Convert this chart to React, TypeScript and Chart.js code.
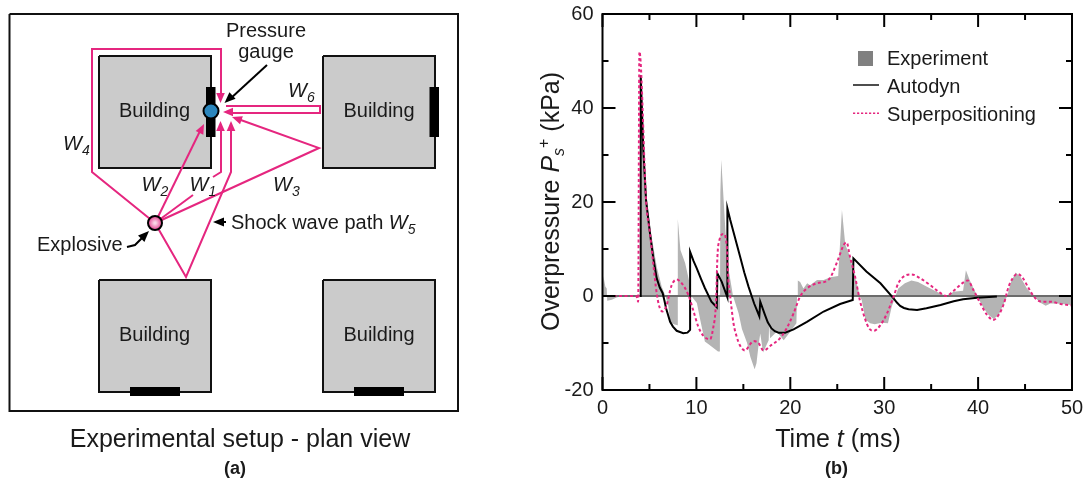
import React, { useEffect, useRef } from "react";
import { Chart, registerables } from "chart.js";

Chart.register(...registerables);

const FONT = '"Liberation Sans", Arial, sans-serif';
const PINK = "#e5267f";
const INK = "#1a1a1a";

/* ---------- panel (b) data: [time ms, overpressure kPa] ---------- */
const experiment: number[][] = [
  [0, 0], [0.1, 4.2], [0.3, 2], [0.45, 1.6], [0.5, -1], [1, -0.8], [1.5, -0.3], [2, 0], [4.05, 0],
  [4.12, 47], [4.3, 38], [4.7, 20.4], [5.2, 13], [5.8, 6], [6.3, 2], [6.7, 0], [7, -2], [7.2, -5.5],
  [7.6, -6], [7.98, -6.2], [8.02, 16.4], [8.3, 9.8], [8.8, 7], [9.25, 3], [9.45, 0], [9.55, -0.2],
  [10.05, -1.5], [10.4, -5], [10.9, -9.7], [11.4, -10.4], [12.3, -11.8], [12.5, -11.8], [12.55, 22],
  [12.65, 29], [12.9, 20.4], [13.2, 10], [13.4, 6], [13.9, 0], [14, 0], [14.5, -3.7], [14.85, -7],
  [15.4, -10], [15.75, -13], [16.2, -15.6], [16.4, -14.3], [16.6, -10.8], [16.8, -8], [17.1, -12],
  [17.7, -9.4], [17.75, -5.8], [17.85, -9], [18.55, -7.6], [19.3, -9.4], [20, -7.6], [20.65, -5.8],
  [20.72, 0], [20.8, 3.3], [21.05, 3], [21.4, 1.6], [21.8, 2.7], [22.1, 2.3], [22.85, 3.4], [23.55, 3.4],
  [24.25, 4], [25.1, 4.25], [25.5, 18.3], [25.85, 11], [26.35, 8.4], [26.9, 4.1], [27.4, 0], [27.6, -0.85],
  [28, -5], [28.5, -5.8], [29, -6], [29.7, -5.7], [30.4, -5.8], [30.8, -2.3], [31.2, 0], [31.5, 1.6],
  [32.2, 2.7], [32.9, 3.3], [33.6, 3], [34.5, 2], [35.6, 0.9], [36.6, 0], [37.4, 0.9], [38.4, 1.1],
  [38.7, 5.5], [39.1, 3.4], [39.9, 0], [40.6, -2.6], [41.1, -4], [41.65, -4.9], [42.2, -4], [42.75, -1.6],
  [43.1, 0], [43.5, 3], [44, 5], [44.5, 4.1], [45.2, 1.6], [45.9, 0], [46.6, -1.4], [47.2, -2.1],
  [47.7, -1.6], [48.4, -1.6], [50, -1.9],
];

const autodyn: number[][] = [
  [4, 0], [4.07, 47], [4.35, 31], [4.64, 20.4], [5.06, 13.3], [5.4, 8.2], [5.77, 3.8], [6.1, 1.8], [6.41, 0.6], [6.6, -1], [6.77, -2.6], [7.2, -5.5],
  [7.5, -6.5], [7.9, -7.4], [8.6, -7.9], [9.05, -7.8], [9.33, -7.2], [9.33, 9.4], [9.7, 7.4], [10.04, 5.9], [10.5, 3.6], [10.9, 1.7], [11.6, -1.2],
  [12.17, -2.4], [12.24, 4.8], [12.7, 3], [13.3, -0.3], [13.3, 18.65], [13.6, 16.2], [13.95, 13.6], [14.3, 11], [14.65, 8.4], [15.1, 5], [15.55, 2],
  [16.15, -1.6], [16.7, -4.3], [16.8, -1.2], [17.3, -4], [17.6, -5.6], [18, -6.9], [18.35, -7.5], [18.75, -7.8], [19.45, -7.8], [20.35, -7.1],
  [21.77, -5.5], [23.55, -3.3], [25.3, -1.7], [26.65, -0.85], [26.72, 8], [28.1, 5.2], [29.6, 2.7], [31, -0.5],
  [31.35, -1.4], [31.7, -2.1], [32.1, -2.55], [32.6, -2.8], [33.5, -3], [34.5, -2.6], [36, -1.9], [37.4, -1.1], [38.4, -0.7], [39.9, -0.35], [42, -0.1],
];

const superpositioning: number[][] = [
  [0, 0], [3.6, 0], [3.8, -1.2], [3.93, 52], [4.65, 20], [5.06, 13.3], [5.4, 7], [5.77, 0.6], [6.06, -2.3], [6.4, -3.3],
  [6.77, -2.3], [7.37, 2.3], [7.9, 3.5], [8.44, 2.7], [9.15, 0.2], [9.7, -3.3], [10.2, -6.5], [10.75, -8.5],
  [11.46, -9.2], [11.75, -7.2], [12.1, -0.85], [12.24, 8.4], [12.45, 11.9], [12.88, 13.2], [13.24, 10.5], [13.4, 3.4],
  [13.6, -0.1], [13.95, -5.8], [14.3, -8.7], [14.66, -10.6], [15.2, -11.6], [15.66, -10.4], [16.1, -9.6], [16.6, -10],
  [17.15, -11.6], [18, -10.4], [18.9, -9], [19.6, -6.9], [20.35, -3.7], [21.05, -0.1], [21.77, 1.6], [22.85, 2.7],
  [24.1, 3.5], [25, 7.3], [25.7, 10.9], [26, 11.4], [26.35, 8.4], [26.9, 4.1], [27.4, -0.85], [27.95, -4.8], [28.4, -6.9],
  [28.9, -7.4], [29.6, -6.2], [30.3, -3.7], [31, -0.15], [31.5, 2.7], [32.2, 4.3], [32.9, 4.6], [33.8, 3.8],
  [34.9, 2.3], [35.8, 0.9], [36.6, 0], [37.4, 1.1], [38.3, 2.7], [38.9, 3.3], [39.5, 1.3], [40.25, -1.6],
  [40.95, -4], [41.6, -5.1], [42.2, -4], [42.75, -1.6], [43.25, 2], [43.7, 3.8], [44.15, 4.7], [44.7, 4],
  [45.4, 1.6], [46.1, -0.5], [46.8, -1.2], [47.7, -1.2], [48.8, -1.7], [50, -2],
];

const zeroLine: number[][] = [[0, 0], [50, 0]];
const xMajorTicks = [0, 10, 20, 30, 40, 50];
const xMinorTicks = [5, 15, 25, 35, 45];
const yMajorTicks = [-20, 0, 20, 40, 60];
const yMinorTicks = [-10, 10, 30, 50];
const legendNames = ["Experiment", "Autodyn", "Superpositioning"];

/* ---------- panel (a) data: schematic plan in its own 0..530 / 0..479 units ---------- */
const frame = [[9.5, 14], [458, 14], [458, 411], [9.5, 411], [9.5, 14]];
const buildings = [
  [[99, 56], [211, 56], [211, 168], [99, 168], [99, 56]],
  [[323, 56], [435, 56], [435, 168], [323, 168], [323, 56]],
  [[99, 280], [211, 280], [211, 392], [99, 392], [99, 280]],
  [[323, 280], [435, 280], [435, 392], [323, 392], [323, 280]],
];
const facades = [
  [[206, 87], [215.5, 87], [215.5, 137], [206, 137], [206, 87]],
  [[429.5, 87], [439, 87], [439, 137], [429.5, 137], [429.5, 87]],
  [[130, 387], [180, 387], [180, 396], [130, 396], [130, 387]],
  [[354, 387], [404, 387], [404, 396], [354, 396], [354, 387]],
];
const wavePaths = [
  [[155, 223], [92, 172], [92, 49], [221, 49], [221, 97]],
  [[155, 223], [193, 195]],
  [[213, 177], [221, 172], [221, 128]],
  [[155, 223], [201, 129]],
  [[155, 223], [319, 148], [238, 119]],
  [[155, 223], [186, 277], [231, 172], [231, 128]],
  [[226, 106], [320, 106], [320, 113], [230, 113]],
];
const pinkArrows = [
  { tip: [220.5, 103], from: [220.5, 90] },
  { tip: [220.5, 121], from: [220.5, 134] },
  { tip: [204, 124], from: [198, 136] },
  { tip: [232, 117], from: [245, 121.5] },
  { tip: [231, 121], from: [231, 134] },
  { tip: [223, 112], from: [236, 112] },
];
const blackLeaders = [
  [[267, 65], [230, 99]],
  [[127, 247], [135, 245], [143, 237]],
  [[226, 222], [218, 222]],
];
const blackArrows = [
  { tip: [224.5, 103], from: [234, 94] },
  { tip: [149, 231], from: [140, 240] },
  { tip: [213, 222], from: [223, 222] },
];
const gauge = [[211, 111]];
const charge = [[155, 223]];

type Run = { text: string; italic?: boolean; bold?: boolean; size: number; dy?: number };
type Label = { x: number; y: number; align?: "left" | "center"; runs: Run[] };

const buildingLabel = "Building";
const W = (n: string, x: number, y: number): Label => ({
  x, y, runs: [{ text: "W", italic: true, size: 20 }, { text: n, italic: true, size: 14, dy: 5 }],
});
const schematicLabels: Label[] = [
  { x: 154.5, y: 117, align: "center", runs: [{ text: buildingLabel, size: 20 }] },
  { x: 379, y: 117, align: "center", runs: [{ text: buildingLabel, size: 20 }] },
  { x: 154.5, y: 341, align: "center", runs: [{ text: buildingLabel, size: 20 }] },
  { x: 379, y: 341, align: "center", runs: [{ text: buildingLabel, size: 20 }] },
  { x: 266, y: 37, align: "center", runs: [{ text: "Pressure", size: 20 }] },
  { x: 266, y: 58, align: "center", runs: [{ text: "gauge", size: 20 }] },
  W("6", 288, 97), W("4", 63, 150), W("2", 141.5, 191), W("1", 189.5, 191), W("3", 273, 191),
  { x: 231, y: 229, runs: [{ text: "Shock wave path ", size: 20 }, { text: "W", italic: true, size: 20 }, { text: "5", italic: true, size: 14, dy: 5 }] },
  { x: 37, y: 251, runs: [{ text: "Explosive", size: 20 }] },
  { x: 240, y: 447, align: "center", runs: [{ text: "Experimental setup - plan view", size: 25 }] },
  { x: 235, y: 474, align: "center", runs: [{ text: "(a)", bold: true, size: 18 }] },
];

/* ---------- helpers ---------- */
const toXY = (pts: number[][]) => pts.map(([x, y]) => ({ x, y }));

function drawRuns(ctx: CanvasRenderingContext2D, x: number, y: number, runs: Run[], align: "left" | "center" = "left", angle = 0) {
  ctx.save();
  ctx.translate(x, y);
  ctx.rotate(angle);
  ctx.fillStyle = INK;
  ctx.textAlign = "left";
  ctx.textBaseline = "alphabetic";
  const fontOf = (r: Run) => `${r.italic ? "italic " : ""}${r.bold ? "bold " : ""}${r.size}px ${FONT}`;
  let total = 0;
  for (const r of runs) { ctx.font = fontOf(r); total += ctx.measureText(r.text).width; }
  let cx = align === "center" ? -total / 2 : 0;
  for (const r of runs) {
    ctx.font = fontOf(r);
    ctx.fillText(r.text, cx, r.dy ?? 0);
    cx += ctx.measureText(r.text).width;
  }
  ctx.restore();
}

function arrowPolygon(tip: number[], from: number[], len = 10, half = 4.3) {
  const dx = from[0] - tip[0], dy = from[1] - tip[1];
  const d = Math.hypot(dx, dy), ux = dx / d, uy = dy / d;
  const bx = tip[0] + ux * len, by = tip[1] + uy * len;
  return [tip, [bx - uy * half, by + ux * half], [bx + uy * half, by - ux * half], tip];
}

const poly = (pts: number[][], color: string, width: number, fillColor?: string) => ({
  data: toXY(pts), showLine: true, borderColor: color, borderWidth: width, pointRadius: 0, tension: 0,
  fill: fillColor ? "shape" : false, backgroundColor: fillColor ?? "transparent", borderJoinStyle: "miter" as const,
});

const noScalePadding = (s: any) => { s.paddingTop = 0; s.paddingBottom = 0; s.paddingLeft = 0; s.paddingRight = 0; };

export default function App() {
  const leftRef = useRef<HTMLCanvasElement>(null);
  const rightRef = useRef<HTMLCanvasElement>(null);

  useEffect(() => {
    /* panel (a) */
    const leftChart = new Chart(leftRef.current!, {
      type: "scatter",
      data: {
        datasets: [
          { ...poly(gauge, "#000", 2), showLine: false, pointRadius: 7.5, pointBorderWidth: 2, pointBackgroundColor: "#2b86bd", pointBorderColor: "#000", order: 0 },
          {
            ...poly(charge, "#000", 2), showLine: false, pointRadius: 7, pointBorderWidth: 2, pointBorderColor: "#000", order: 0,
            pointBackgroundColor: (c: any) => {
              const { x, y } = c.chart.scales;
              const px = x.getPixelForValue(charge[0][0]), py = y.getPixelForValue(charge[0][1]);
              if (!Number.isFinite(px) || !Number.isFinite(py)) return "#ee7ab0";
              const g = c.chart.ctx.createRadialGradient(px, py, 1, px, py, 7);
              g.addColorStop(0, "#fbd5e6");
              g.addColorStop(1, "#e5408f");
              return g;
            },
          },
          ...blackLeaders.map((p) => ({ ...poly(p, "#000", 2), order: 1 })),
          ...blackArrows.map((a) => ({ ...poly(arrowPolygon(a.tip, a.from, 11, 4.5), "#000", 0, "#000"), order: 1 })),
          ...pinkArrows.map((a) => ({ ...poly(arrowPolygon(a.tip, a.from), PINK, 0, PINK), order: 2 })),
          ...wavePaths.map((p) => ({ ...poly(p, PINK, 2), order: 2 })),
          ...facades.map((p) => ({ ...poly(p, "#000", 0, "#000"), order: 3 })),
          ...buildings.map((p) => ({ ...poly(p, "#111", 2, "#cbcbcb"), order: 4 })),
          { ...poly(frame, "#111", 2), order: 5 },
        ],
      } as any,
      options: {
        animation: false,
        responsive: false,
        events: [],
        layout: { padding: 0, autoPadding: false },
        plugins: { legend: { display: false }, tooltip: { enabled: false } },
        scales: {
          x: { type: "linear", display: false, min: 0, max: 530 },
          y: { type: "linear", display: false, min: 0, max: 479, reverse: true },
        },
      },
      plugins: [{
        id: "schematicText",
        afterDraw(chart: any) {
          const { x, y } = chart.scales;
          for (const l of schematicLabels) {
            drawRuns(chart.ctx, x.getPixelForValue(l.x), y.getPixelForValue(l.y), l.runs, l.align ?? "left");
          }
        },
      }],
    } as any);

    /* panel (b) */
    const rightChart = new Chart(rightRef.current!, {
      type: "scatter",
      data: {
        datasets: [
          { label: legendNames[0], data: toXY(experiment), showLine: true, borderWidth: 0, borderColor: "transparent", backgroundColor: "#b4b4b4", fill: "origin", pointRadius: 0, tension: 0, order: 3 },
          { label: "Zero", data: toXY(zeroLine), showLine: true, borderWidth: 2, borderColor: "#6b6b6b", pointRadius: 0, order: 2 },
          { label: legendNames[1], data: toXY(autodyn), showLine: true, borderWidth: 2, borderColor: "#000", pointRadius: 0, tension: 0, borderJoinStyle: "miter", order: 1 },
          { label: legendNames[2], data: toXY(superpositioning), showLine: true, borderWidth: 2, borderColor: PINK, borderDash: [3, 2.5], pointRadius: 0, cubicInterpolationMode: "monotone", order: 0 },
        ],
      } as any,
      options: {
        animation: false,
        responsive: false,
        events: [],
        layout: { padding: { top: 14, right: 14, bottom: 0, left: 0 }, autoPadding: false },
        plugins: { legend: { display: false }, tooltip: { enabled: false } },
        scales: {
          x: {
            type: "linear", min: 0, max: 50,
            grid: { display: false, drawTicks: false }, border: { display: false },
            ticks: { stepSize: 10, padding: 6, color: INK, font: { family: FONT, size: 20 }, maxRotation: 0 },
            afterFit: (s: any) => { s.height = 89; noScalePadding(s); },
          },
          y: {
            type: "linear", min: -20, max: 60,
            grid: { display: false, drawTicks: false }, border: { display: false },
            ticks: { stepSize: 20, padding: 9, color: INK, font: { family: FONT, size: 20 } },
            afterFit: (s: any) => { s.width = 72.5; noScalePadding(s); },
          },
        },
      },
      plugins: [{
        id: "frameTicksText",
        afterDatasetsDraw(chart: any) {
          const { ctx, chartArea: a } = chart;
          const { x, y } = chart.scales;
          ctx.save();
          ctx.strokeStyle = "#000";
          ctx.lineWidth = 2;
          ctx.strokeRect(a.left, a.top, a.right - a.left, a.bottom - a.top);
          const seg = (x0: number, y0: number, x1: number, y1: number) => { ctx.beginPath(); ctx.moveTo(x0, y0); ctx.lineTo(x1, y1); ctx.stroke(); };
          const vx = (v: number, len: number) => {
            const p = x.getPixelForValue(v);
            seg(p, a.bottom, p, a.bottom - len); seg(p, a.top, p, a.top + len);
          };
          const hy = (v: number, len: number) => {
            const p = y.getPixelForValue(v);
            seg(a.left, p, a.left + len, p); seg(a.right, p, a.right - len, p);
          };
          xMajorTicks.forEach((v) => vx(v, 13));
          xMinorTicks.forEach((v) => vx(v, 6));
          yMajorTicks.forEach((v) => hy(v, 13));
          yMinorTicks.forEach((v) => hy(v, 6));

          /* legend, read from the datasets */
          const lx = 323, textX = 357;
          const rows = [58.5, 85, 113.3];
          const baselines = [65, 93, 121];
          const sets = chart.data.datasets;
          ctx.fillStyle = "#808080";
          ctx.fillRect(328, rows[0] - 7.5, 15, 15);
          ctx.lineWidth = 1.4;
          ctx.strokeStyle = sets[2].borderColor;
          seg(lx, rows[1], lx + 26, rows[1]);
          ctx.strokeStyle = sets[3].borderColor;
          ctx.setLineDash([2.2, 1.8]);
          seg(lx, rows[2], lx + 26, rows[2]);
          ctx.setLineDash([]);
          ctx.restore();
          drawRuns(ctx, textX, baselines[0], [{ text: sets[0].label, size: 20 }]);
          drawRuns(ctx, textX, baselines[1], [{ text: sets[2].label, size: 20 }]);
          drawRuns(ctx, textX, baselines[2], [{ text: sets[3].label, size: 20 }]);

          /* axis titles and caption */
          drawRuns(ctx, 308, 447, [{ text: "Time ", size: 25 }, { text: "t", italic: true, size: 25 }, { text: " (ms)", size: 25 }], "center");
          drawRuns(ctx, 306.5, 474, [{ text: "(b)", bold: true, size: 18 }], "center");
          drawRuns(ctx, 29, 331, [
            { text: "Overpressure ", size: 25 }, { text: "P", italic: true, size: 25 },
            { text: "s", italic: true, size: 16, dy: 5 }, { text: "+", size: 16, dy: -10 }, { text: " (kPa)", size: 25 },
          ], "left", -Math.PI / 2);
        },
      }],
    } as any);

    return () => { leftChart.destroy(); rightChart.destroy(); };
  }, []);

  return (
    <div style={{ position: "absolute", left: 0, top: 0, width: 1086, height: 479, background: "#fff", overflow: "hidden" }}>
      <canvas ref={leftRef} width={530} height={479} style={{ position: "absolute", left: 0, top: 0, display: "block" }} />
      <canvas ref={rightRef} width={556} height={479} style={{ position: "absolute", left: 530, top: 0, display: "block" }} />
    </div>
  );
}
